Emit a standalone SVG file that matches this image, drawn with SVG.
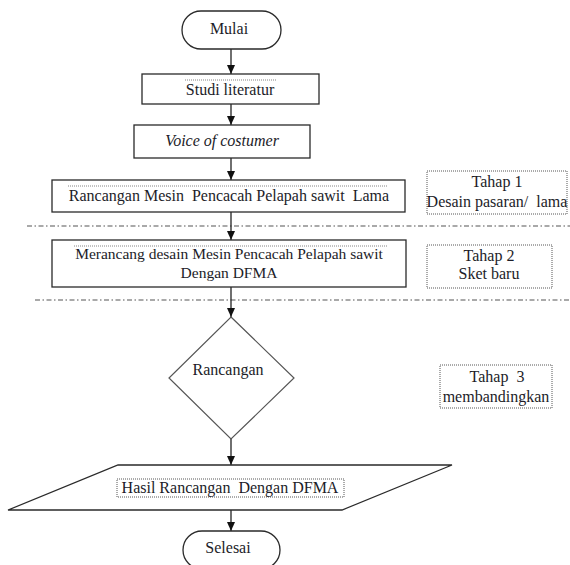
<svg xmlns="http://www.w3.org/2000/svg" width="570" height="565" viewBox="0 0 570 565">
<style>
.box{fill:#fff;stroke:#2a2a2a;stroke-width:1.3}
.dia{fill:#fff;stroke:#555;stroke-width:1.2}
.lbl{fill:#fff;stroke:#444;stroke-width:0.9;stroke-dasharray:1 1}
text{font-family:'Liberation Serif','Times New Roman','DejaVu Serif',serif;font-size:16px;fill:#1c1c28;text-anchor:middle}
.it{font-style:italic}
.sep{stroke:#555;stroke-width:1.2;fill:none;stroke-dasharray:5 2.5 1.5 2.5}
.mark{stroke:#666;stroke-width:0.8;stroke-dasharray:1 1;fill:none}
.conn{stroke:#222;stroke-width:1.3;fill:none;marker-end:url(#ah)}
</style>
<defs>
<marker id="ah" markerUnits="userSpaceOnUse" markerWidth="10" markerHeight="9" refX="9" refY="4" orient="auto" viewBox="0 0 10 9">
<path d="M0,0 L9,4 L0,8 Z" fill="#111"/>
</marker>
</defs>
<rect width="570" height="565" fill="#fff"/>

<g id="separators">
<line class="sep" x1="27" y1="226" x2="570" y2="226"/>
<line class="sep" x1="35" y1="300" x2="570" y2="300"/>
</g>

<g id="connectors">
<path class="conn" d="M231,49 V74"/>
<path class="conn" d="M231,104 V125"/>
<path class="conn" d="M231,158 V180"/>
<path class="conn" d="M231,212 V240"/>
<path class="conn" d="M231,287 V317"/>
<path class="conn" d="M231,439 V465"/>
<path class="conn" d="M231,510 V531"/>
</g>

<g id="mulai">
<rect class="box" x="182" y="11" width="99" height="38" rx="19"/>
<text x="229" y="34">Mulai</text>
</g>

<g id="studi">
<rect class="box" x="142" y="74" width="177" height="30"/>
<line class="mark" x1="185" y1="80" x2="276" y2="80"/>
<text x="230" y="95">Studi literatur</text>
</g>

<g id="voice">
<rect class="box" x="134" y="125" width="176" height="33"/>
<text class="it" x="222" y="146">Voice of costumer</text>
</g>

<g id="rancangan-lama">
<rect class="box" x="52" y="180" width="353" height="32"/>
<line class="mark" x1="68" y1="186" x2="388" y2="186"/>
<text x="229" y="201" xml:space="preserve">Rancangan Mesin  Pencacah Pelapah sawit  Lama</text>
</g>

<g id="tahap1">
<rect class="lbl" x="427" y="171" width="140" height="43"/>
<text x="497" y="187">Tahap 1</text>
<text x="497" y="207" xml:space="preserve">Desain pasaran/  lama</text>
</g>

<g id="merancang">
<rect class="box" x="52" y="240" width="354" height="47"/>
<line class="mark" x1="74" y1="246" x2="387" y2="246"/>
<text x="229" y="259" style="font-size:15.5px">Merancang desain Mesin Pencacah Pelapah sawit</text>
<text x="229" y="278" style="font-size:15.5px">Dengan DFMA</text>
</g>

<g id="tahap2">
<rect class="lbl" x="427" y="245" width="125" height="43"/>
<text x="489" y="261">Tahap 2</text>
<text x="489" y="279">Sket baru</text>
</g>

<g id="rancangan">
<polygon class="dia" points="231,317 294,378 231,439 169,378"/>
<text x="228" y="375">Rancangan</text>
</g>

<g id="tahap3">
<rect class="lbl" x="440" y="365" width="112" height="43"/>
<text x="497" y="382" xml:space="preserve">Tahap  3</text>
<text x="496" y="402">membandingkan</text>
</g>

<g id="hasil">
<polygon class="box" points="118,465 452,465 342,510 8,510"/>
<rect class="lbl" x="117" y="479" width="227" height="18"/>
<text x="230" y="493" xml:space="preserve">Hasil Rancangan  Dengan DFMA</text>
</g>

<g id="selesai">
<rect class="box" x="183" y="531" width="97" height="38" rx="19"/>
<text x="228" y="553">Selesai</text>
</g>
</svg>
